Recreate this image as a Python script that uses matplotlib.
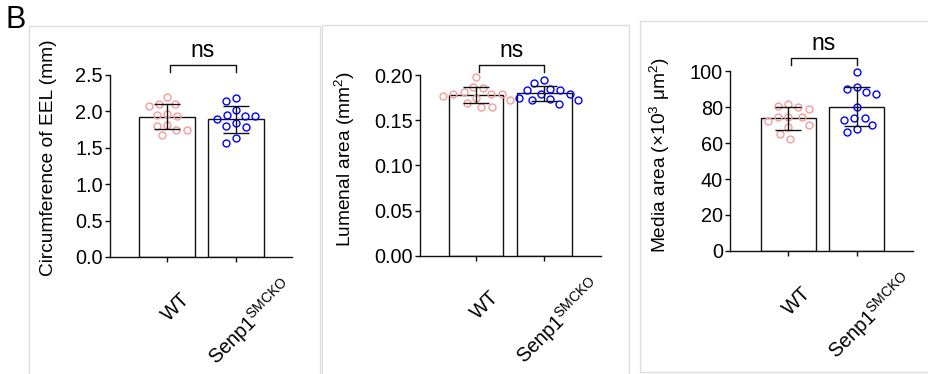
import numpy as np
import matplotlib
matplotlib.use('Agg')
import matplotlib.pyplot as plt
from matplotlib.patches import Rectangle
from matplotlib.lines import Line2D
from matplotlib.transforms import ScaledTranslation

plt.rcParams['font.family'] = ['Liberation Sans', 'DejaVu Sans']
plt.rcParams['mathtext.default'] = 'regular'

# ---------------- data ----------------
groups = ['WT', 'Senp1$^{SMCKO}$']

eel_wt = [2.20, 2.07, 2.10, 2.10, 1.95, 1.97, 1.94, 1.80, 1.81, 1.74, 1.74, 1.68]
eel_ko = [2.19, 2.14, 2.02, 1.95, 1.94, 1.94, 1.90, 1.84, 1.80, 1.79, 1.63, 1.57]

lum_wt = [0.198, 0.186, 0.187, 0.181, 0.175, 0.172, 0.179, 0.177, 0.179,
          0.179, 0.169, 0.165, 0.165]
lum_ko = [0.195, 0.191, 0.185, 0.183, 0.183, 0.179, 0.179, 0.175, 0.173,
          0.172, 0.172, 0.168]

media_wt = [81.7, 79.8, 79.1, 80.6, 72.4, 70.2, 68.7, 74.3, 74.6, 74.6, 65.0, 62.4]
media_ko = [99.5, 89.8, 88.3, 91.3, 87.0, 79.8, 74.1, 72.8, 74.1, 70.0, 67.8, 65.9]

ylabels = ['Circumference of EEL (mm)',
           'Lumenal area (mm$^{2}$)',
           'Media area (×10$^{3}$ μm$^{2}$)']
yticks_list = [[0.0, 0.5, 1.0, 1.5, 2.0, 2.5],
               [0.00, 0.05, 0.10, 0.15, 0.20],
               [0, 20, 40, 60, 80, 100]]
ytick_fmt = ['{:.1f}', '{:.2f}', '{:.0f}']
sig_text = ['ns', 'ns', 'ns']

# ---------------- style ----------------
W, H = 929, 374
fig = plt.figure(figsize=(W / 100, H / 100), dpi=100)

c_wt = '#F59C9C'
c_ko = '#0000FF'
FS_TICK = 14.3
FS_LAB = 13.8

# axes boxes in pixels: left, top, right, bottom
boxes = [(110, 75, 292, 257), (420, 75, 600.7, 255.7), (730, 71, 913.3, 251)]
xlims = [(-0.826, 1.812), (-0.82, 1.826), (-0.852, 1.828)]
label_xy = [(-0.291, 0.547), (-0.349, 0.535), (-0.316, 0.533)]
bracket_y = [1.055, 1.055, 1.072]
# x tick label offsets in pixels (right, down)
xlab_off = [(13.0, 25.0), (44.0, 10.0)]

datasets = [(eel_wt, eel_ko), (lum_wt, lum_ko), (media_wt, media_ko)]


def swarm(ax, center, vals, spacing):
    vals = np.asarray(vals, float)
    pts = ax.transData.transform(np.column_stack([np.full(len(vals), center), vals]))
    ys = pts[:, 1]
    x0 = pts[0, 0]
    px, py = [], []
    xs = np.zeros(len(vals))
    for i in np.argsort(-vals):
        cands = [0.0]
        for a, b in zip(px, py):
            dy = ys[i] - b
            if abs(dy) < spacing:
                dx = np.sqrt(spacing ** 2 - dy ** 2)
                cands += [a - dx, a + dx]
        cands = sorted(cands, key=abs)
        chosen = cands[-1]
        for c in cands:
            if all((c - a) ** 2 + (ys[i] - b) ** 2 >= spacing ** 2 - 1e-6
                   for a, b in zip(px, py)):
                chosen = c
                break
        px.append(chosen)
        py.append(ys[i])
        xs[i] = chosen
    inv = ax.transData.inverted()
    return inv.transform(np.column_stack([x0 + xs, ys]))[:, 0]


for k in range(3):
    l, t, r, b = boxes[k]
    ax = fig.add_axes([l / W, 1 - b / H, (r - l) / W, (b - t) / H])
    yt = yticks_list[k]
    ax.set_ylim(yt[0], yt[-1])
    ax.set_xlim(*xlims[k])
    for s in ['top', 'right']:
        ax.spines[s].set_visible(False)
    for s in ['left', 'bottom']:
        ax.spines[s].set_linewidth(1.0)
        ax.spines[s].set_color('#111111')
    ax.set_yticks(yt)
    ax.set_yticklabels([ytick_fmt[k].format(v) for v in yt])
    ax.set_xticks([0, 1])
    ax.set_xticklabels([])
    ax.tick_params(axis='both', direction='out', length=3.6, width=1.0,
                   labelsize=FS_TICK, pad=1.5, color='#111111')
    ax.set_ylabel(ylabels[k], fontsize=FS_LAB)
    ax.yaxis.set_label_coords(*label_xy[k])

    # rotated category labels
    for i, name in enumerate(groups):
        dx, dy = xlab_off[i]
        tr = ax.get_xaxis_transform() + ScaledTranslation(
            dx / 100, -(7 + dy) / 100, fig.dpi_scale_trans)
        ax.text(i, 0, name, transform=tr, rotation=45, ha='right', va='top',
                rotation_mode='anchor', fontsize=FS_TICK)

    wt, ko = datasets[k]
    for i, (vals, col) in enumerate([(wt, c_wt), (ko, c_ko)]):
        vals = np.asarray(vals, float)
        m = vals.mean()
        sd = vals.std(ddof=1)
        ax.bar(i, m, width=0.8, color='white', edgecolor='#111111',
               linewidth=1.0, zorder=2)
        xs = swarm(ax, i, vals, 10.5)
        ax.plot(xs, vals, 'o', ms=5.0, mfc='none', mec=col, mew=1.0,
                zorder=3, clip_on=False)
        ax.errorbar(i, m, yerr=sd, fmt='none', ecolor='#111111',
                    elinewidth=1.0, capsize=9.7, capthick=1.0, zorder=4)

    # significance bracket
    by = bracket_y[k]
    drop = 7.0 / (b - t)
    trans = ax.get_xaxis_transform()
    ax.add_line(Line2D([0.04, 0.04, 1.0, 1.0], [by - drop, by, by, by - drop],
                       transform=trans, color='#111111', lw=1.0, clip_on=False))
    ax.text(0.52, by + 8.0 / (b - t), sig_text[k], transform=trans,
            ha='center', va='baseline', fontsize=16.5)

# panel frames
frame_col = '#dedede'
frames = [(29, 26, 320, 400), (322, 25, 629, 400), (640, 21, 935, 372)]
for (x0, y0, x1, y1) in frames:
    fig.add_artist(Rectangle((x0 / W, 1 - y1 / H), (x1 - x0) / W, (y1 - y0) / H,
                             transform=fig.transFigure, fill=False,
                             ec=frame_col, lw=1.0))

fig.text(6 / W, 1 - 28 / H, 'B', fontsize=22, ha='left', va='baseline')

fig.savefig('out.png', dpi=100)
